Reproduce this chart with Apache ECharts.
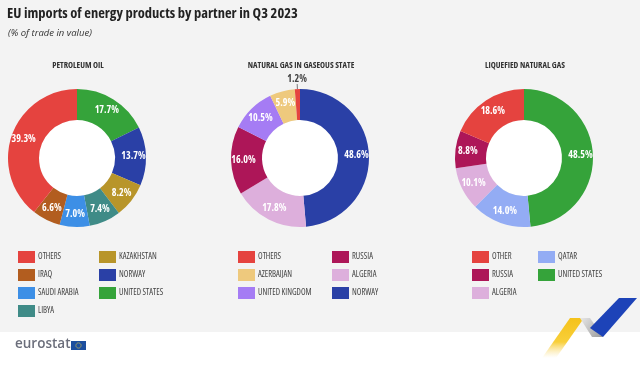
<!DOCTYPE html>
<html>
<head>
<meta charset="utf-8">
<script src="https://cdn.jsdelivr.net/npm/echarts@6/dist/echarts.min.js"></script>
<style>html,body{margin:0;padding:0;background:#fff}#c{width:640px;height:369px}</style>
</head>
<body>
<div id="c"></div>
<script>
// ---- Data ----
const chartTitles = ["PETROLEUM OIL", "NATURAL GAS IN GASEOUS STATE", "LIQUEFIED NATURAL GAS"];

// Petroleum oil (clockwise from top)
const oilPartners = ["United States", "Norway", "Kazakhstan", "Libya", "Saudi Arabia", "Iraq", "Others"];
const oilValues   = [17.7, 13.7, 8.2, 7.4, 7.0, 6.6, 39.3];

// Natural gas in gaseous state (clockwise from top)
const gasPartners = ["Norway", "Algeria", "Russia", "United Kingdom", "Azerbaijan", "Others"];
const gasValues   = [48.6, 17.8, 16.0, 10.5, 5.9, 1.2];

// Liquefied natural gas (clockwise from top)
const lngPartners = ["United States", "Qatar", "Algeria", "Russia", "Other"];
const lngValues   = [48.5, 14.0, 10.1, 8.8, 18.6];

// Legend columns
const oilLegendCol1 = ["Others", "Iraq", "Saudi Arabia", "Libya"];
const oilLegendCol2 = ["Kazakhstan", "Norway", "United States"];
const gasLegendCol1 = ["Others", "Azerbaijan", "United Kingdom"];
const gasLegendCol2 = ["Russia", "Algeria", "Norway"];
const lngLegendCol1 = ["Other", "Russia", "Algeria"];
const lngLegendCol2 = ["Qatar", "United States"];

// ---- Styles ----
const colors = {
  "Others": "#e5433f", "Other": "#e5433f",
  "Iraq": "#b25d1f", "Saudi Arabia": "#3d8fe6", "Libya": "#3f8b87",
  "Kazakhstan": "#b8952a", "Norway": "#2a40a6", "United States": "#35a33a",
  "Azerbaijan": "#eec97d", "United Kingdom": "#a57cf4", "Russia": "#ad1658",
  "Algeria": "#ddafdc", "Qatar": "#93acf4"
};
const FONT = '"Open Sans", "DejaVu Sans Condensed", sans-serif';
const centers = [[77, 158], [300, 158], [524, 158]];
const R = [38, 69];

function pieSeries(names, values, center, outsideIdx) {
  return {
    type: 'pie', center: center, radius: R, startAngle: 90, clockwise: true,
    silent: true, avoidLabelOverlap: false, z: 3,
    label: { show: true, position: 'inside', color: '#fff', fontFamily: FONT, fontStyle: 'condensed',
      fontWeight: 'bold', fontSize: 10, formatter: p => p.value.toFixed(1) + '%' },
    labelLine: { show: false },
    labelLayout: function (p) {
      if (p.dataIndex === outsideIdx && p.labelLinePoints) {
        const pts = p.labelLinePoints;
        const last = pts[pts.length - 1];
        return { x: last[0], y: last[1] + 1, align: 'center', verticalAlign: 'bottom' };
      }
    },
    data: names.map((n, i) => {
      const d = { name: n, value: values[i], itemStyle: { color: colors[n] } };
      if (i === outsideIdx) {
        d.label = { position: 'outside', color: '#444', fontWeight: 'bold', distance: 0 };
        d.labelLine = { show: true, length: 6, length2: 0, lineStyle: { color: '#777', width: 1 } };
      }
      return d;
    })
  };
}
function holeSeries(center) {
  return { type: 'pie', center: center, radius: [0, R[0]], silent: true, z: 2,
    label: { show: false }, labelLine: { show: false },
    data: [{ name: '_hole', value: 1, itemStyle: { color: '#ffffff' } }] };
}
function legend(names, left) {
  return { orient: 'vertical', left: left, top: 251, padding: 0, itemWidth: 17, itemHeight: 12,
    itemGap: 6, selectedMode: false, icon: 'rect', data: names,
    formatter: n => n.toUpperCase(),
    textStyle: { fontFamily: FONT, fontStyle: 'condensed', fontSize: 8.5, color: '#444', padding: [0, 0, 0, -2] } };
}

const chart = echarts.init(document.getElementById('c'), null, { renderer: 'canvas' });
chart.setOption({
  backgroundColor: '#ffffff',
  animation: false,
  title: [
    { text: 'EU imports of energy products by partner in Q3 2023', left: 7, top: 6, padding: 0,
      textStyle: { fontFamily: FONT, fontStyle: 'condensed', fontWeight: 'bold', fontSize: 14.5, color: '#222' } },
    { text: '(% of trade in value)', left: 8, top: 28, padding: 0,
      textStyle: { fontFamily: FONT, fontStyle: 'italic', fontWeight: 'normal', fontSize: 9.5, color: '#333' } },
    ...chartTitles.map((t, i) => ({ text: t, left: centers[i][0] + 1, top: 61, padding: 0, textAlign: 'center',
      textStyle: { fontFamily: FONT, fontStyle: 'condensed', fontWeight: 'bold', fontSize: 8.5, color: '#333' } }))
  ],
  legend: [
    legend(oilLegendCol1, 18), legend(oilLegendCol2, 99),
    legend(gasLegendCol1, 238), legend(gasLegendCol2, 332),
    legend(lngLegendCol1, 472), legend(lngLegendCol2, 538)
  ],
  graphic: [
    { type: 'rect', z: -10, shape: { x: 0, y: 0, width: 640, height: 332 }, style: { fill: '#f3f3f3' } },
    { type: 'text', x: 15, y: 337, style: { text: 'eurostat', fill: '#6b6e7b',
      font: '600 13.5px "Open Sans", sans-serif' } },
    { type: 'rect', shape: { x: 71, y: 341, width: 15, height: 9 }, style: { fill: '#1d4f9e' } },
    { type: 'circle', shape: { cx: 78.5, cy: 345.5, r: 2.6 }, style: { fill: 'none', stroke: '#f3d23a', lineWidth: 1, lineDash: [1, 1] } },
    { type: 'polygon', shape: { points: [[570, 318], [584, 318], [556, 358], [542, 358]] },
      style: { fill: new echarts.graphic.LinearGradient(0, 0, 0, 1, [
        { offset: 0, color: '#f5c21a' }, { offset: 0.6, color: '#f8cf3a' }, { offset: 1, color: 'rgba(250,225,150,0)' }]) } },
    { type: 'polygon', shape: { points: [[580, 318], [590, 318], [603, 337], [592, 337]] },
      style: { fill: new echarts.graphic.LinearGradient(0, 0, 1, 1, [
        { offset: 0, color: '#e8e8e8' }, { offset: 1, color: '#9a9a9a' }]) } },
    { type: 'polygon', shape: { points: [[619, 298], [637, 298], [603, 337], [590, 328]] },
      style: { fill: '#1d43b8' } }
  ],
  series: [
    holeSeries(centers[0]), pieSeries(oilPartners, oilValues, centers[0], -1),
    holeSeries(centers[1]), pieSeries(gasPartners, gasValues, centers[1], gasPartners.length - 1),
    holeSeries(centers[2]), pieSeries(lngPartners, lngValues, centers[2], -1)
  ]
});
</script>
</body>
</html>
